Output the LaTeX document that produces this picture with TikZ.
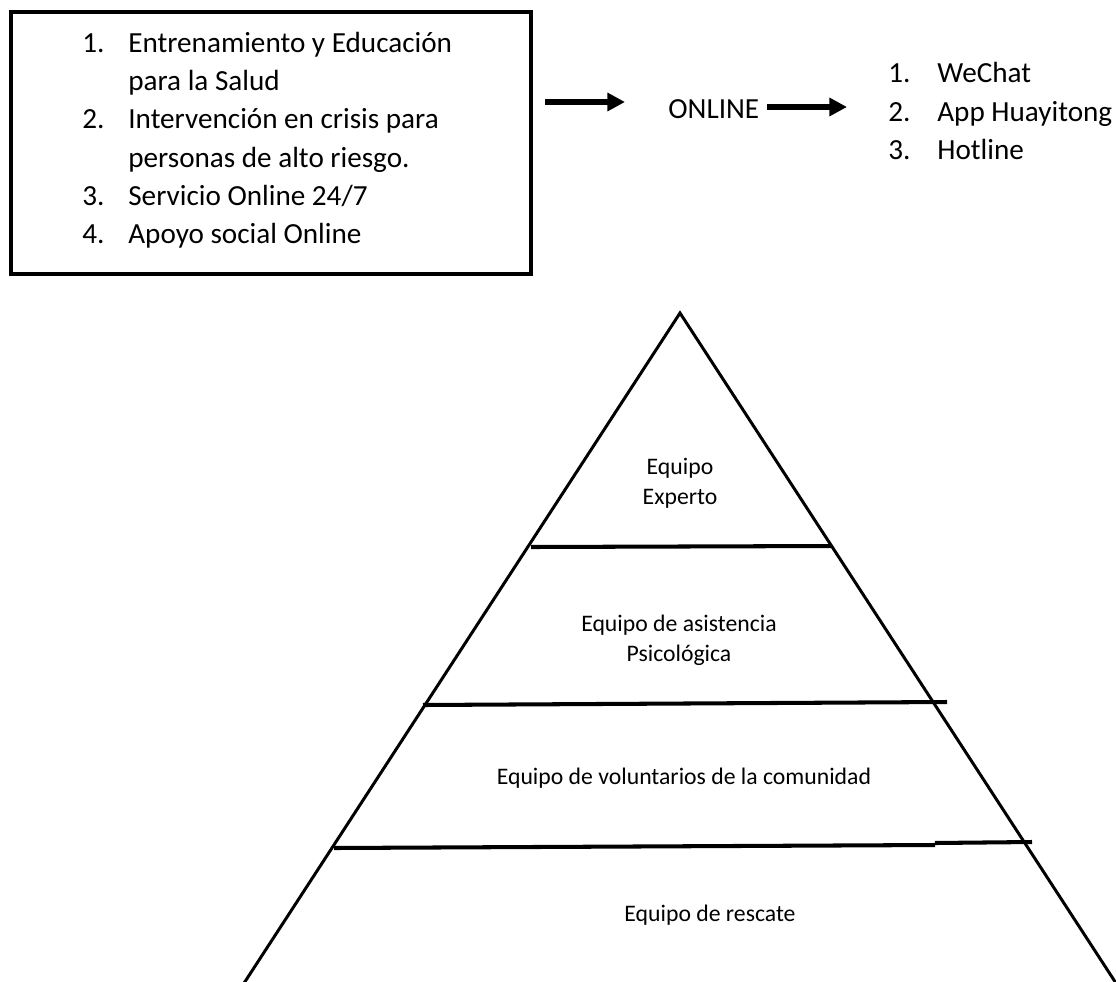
\documentclass[tikz,border=0pt]{standalone}
\usepackage{fontspec}
\setmainfont{Carlito}
\usetikzlibrary{arrows.meta}

\begin{document}
\begin{tikzpicture}[x=0.02cm, y=-0.02cm, >={Triangle[length=10pt, width=10pt]},
  lista/.style={anchor=base west, inner sep=0pt, font=\fontsize{16.6}{21.5}\selectfont},
  nivel/.style={align=center, inner sep=0pt, font=\fontsize{13.5}{17}\selectfont},
  flecha/.style={->, line width=3.4pt},
  lado/.style={line width=1.7pt},
  franja/.style={line width=2.3pt}]
  \useasboundingbox (0,0) rectangle (1116,981);
  \clip (0,0) rectangle (1116,981);
  \node (servicios) at (271,143) [draw, line width=2.5pt, minimum width=10.4cm, minimum height=5.24cm] {};
  \node (n1) at (82,52) [lista] {1.};
  \node (e1) at (128,52) [lista] {Entrenamiento y Educación};
  \node (e1b) at (128,90) [lista] {para la Salud};
  \node (n2) at (82,128) [lista] {2.};
  \node (e2) at (128,128) [lista] {Intervención en crisis para};
  \node (e2b) at (128,167) [lista] {personas de alto riesgo.};
  \node (n3) at (82,205) [lista] {3.};
  \node (e3) at (128,205) [lista] {Servicio Online 24/7};
  \node (n4) at (82,243) [lista] {4.};
  \node (e4) at (128,243) [lista] {Apoyo social Online};
  \node (online) at (668,118) [lista] {ONLINE};
  \node (m1) at (888,82) [lista] {1.};
  \node (c1) at (937,82) [lista] {WeChat};
  \node (m2) at (888,121) [lista] {2.};
  \node (c2) at (937,121) [lista] {App Huayitong};
  \node (m3) at (888,159) [lista] {3.};
  \node (c3) at (937,159) [lista] {Hotline};
  \coordinate (f2) at (625,102);
  \coordinate (f4) at (847,107);
  \draw [flecha, shorten <=0.24cm] (servicios.east |- f2) -- (f2);
  \draw [flecha, shorten <=0.14cm] (online.east |- f4) -- (f4);
  \draw [lado] (235,997) -- (680,313) -- (1125,997);
  \draw [franja] (531,547) -- (832,546);
  \draw [franja] (423,705) -- (947,702);
  \draw [franja] (334,848) -- (935,845);
  \draw [franja] (935,843) -- (1032,842);
  \node (experto) at (680,483) [nivel] {Equipo\\Experto};
  \node (asistencia) at (679,640) [nivel] {Equipo de asistencia\\Psicológica};
  \node (voluntarios) at (684,778) [nivel] {Equipo de voluntarios de la comunidad};
  \node (rescate) at (710,915) [nivel] {Equipo de rescate};
\end{tikzpicture}
\end{document}
